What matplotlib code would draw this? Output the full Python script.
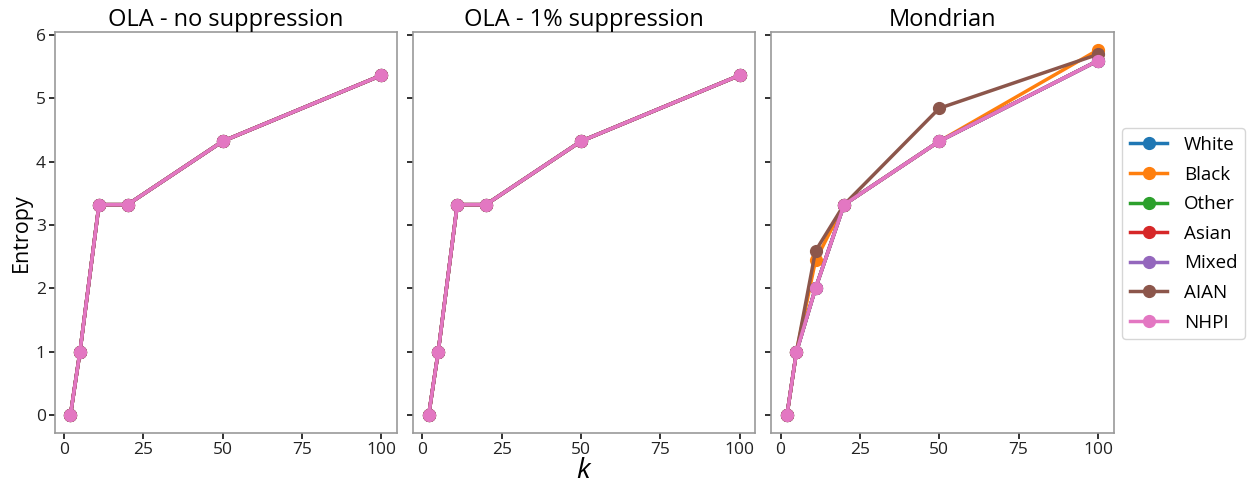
import matplotlib
matplotlib.use("Agg")
import matplotlib.pyplot as plt

plt.rcParams['font.family'] = ['Open Sans', 'DejaVu Sans']
plt.rcParams['mathtext.fontset'] = 'custom'
plt.rcParams['mathtext.it'] = 'Open Sans:italic'

k_values = [2, 5, 11, 20, 50, 100]
groups = ["White", "Black", "Other", "Asian", "Mixed", "AIAN", "NHPI"]
colors = ["#1f77b4", "#ff7f0e", "#2ca02c", "#d62728", "#9467bd", "#8c564b", "#e377c2"]

ola_entropy = [0.0, 1.0, 3.32, 3.32, 4.32, 5.36]
ola_supp_entropy = [0.0, 1.0, 3.32, 3.32, 4.32, 5.36]

mondrian_white = [0.0, 1.0, 2.0, 3.32, 4.32, 5.59]
mondrian_black = [0.0, 1.0, 2.44, 3.32, 4.32, 5.76]
mondrian_other = [0.0, 1.0, 2.0, 3.32, 4.32, 5.59]
mondrian_asian = [0.0, 1.0, 2.0, 3.32, 4.32, 5.59]
mondrian_mixed = [0.0, 1.0, 2.0, 3.32, 4.32, 5.59]
mondrian_aian = [0.0, 1.0, 2.59, 3.32, 4.84, 5.69]
mondrian_nhpi = [0.0, 1.0, 2.0, 3.32, 4.32, 5.59]
mondrian = [mondrian_white, mondrian_black, mondrian_other, mondrian_asian,
            mondrian_mixed, mondrian_aian, mondrian_nhpi]

titles = ["OLA - no suppression", "OLA - 1% suppression", "Mondrian"]

fig, axes = plt.subplots(1, 3, figsize=(12.47, 4.87), dpi=100, sharey=True)
fig.subplots_adjust(left=0.044, right=0.893, bottom=0.11, top=0.935, wspace=0.047)

panel_data = [[ola_entropy] * 7, [ola_supp_entropy] * 7, mondrian]
for ax, title, data in zip(axes, titles, panel_data):
    for g, c, ys in zip(groups, colors, data):
        ax.plot(k_values, ys, color=c, marker='o', lw=2.5, ms=8.5, label=g)
    ax.set_title(title, fontsize=17, pad=3)
    ax.set_xticks([0, 25, 50, 75, 100])
    ax.set_yticks([0, 1, 2, 3, 4, 5, 6])
    ax.tick_params(labelsize=12.5, length=4, width=1.3, pad=2.5, color='#222222',
                   labelcolor='#222222')
    for s in ax.spines.values():
        s.set_color('#999999')
        s.set_linewidth(1.2)

axes[0].set_ylabel("Entropy", fontsize=15.5, labelpad=3)
axes[1].set_xlabel("$k$", fontsize=20, labelpad=-1)

handles, labels = axes[2].get_legend_handles_labels()
fig.legend(handles, labels, loc='center left', bbox_to_anchor=(0.897, 0.52),
           fontsize=13.5, frameon=True, edgecolor='#cccccc', handlelength=2.0,
           handletextpad=0.9, labelspacing=0.62, borderpad=0.4, borderaxespad=0.2)

fig.savefig("out.png", dpi=100)
